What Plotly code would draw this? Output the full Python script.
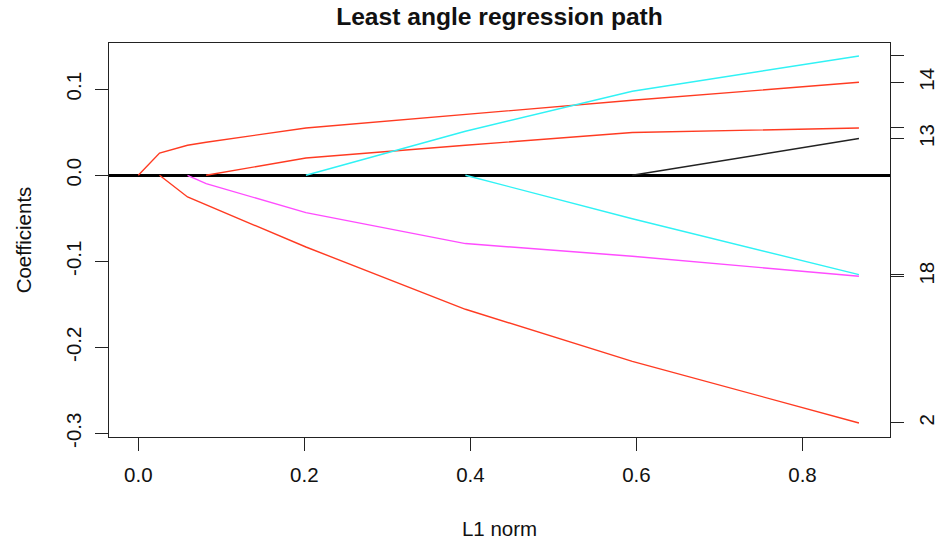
import plotly.graph_objects as go

# L1 norm at each step of the path
l1_norm = [0.0, 0.0256, 0.0593, 0.0817, 0.2019, 0.394, 0.595, 0.868]

# coefficient paths (None = variable not yet active)
red_upper = [0.0, 0.0259, 0.0349, 0.0384, 0.0550, 0.0709, 0.0872, 0.1081]
red_mid = [None, None, None, 0.0, 0.0201, 0.0349, 0.0497, 0.0550]
cyan_upper = [None, None, None, None, 0.0, 0.0512, 0.0977, 0.1387]
black_v13 = [None, None, None, None, None, None, 0.0, 0.0427]
cyan_lower = [None, None, None, None, None, 0.0, -0.0505, -0.1155]
magenta_v18 = [None, None, 0.0, -0.0097, -0.0434, -0.0794, -0.0942, -0.1174]
red_lower = [None, 0.0, -0.0252, None, -0.0834, -0.1558, -0.2163, -0.2880]

series_names = ["red upper (14)", "red middle", "cyan upper", "black (13)",
                "cyan lower", "magenta (18)", "red lower (2)"]
series_values = [red_upper, red_mid, cyan_upper, black_v13, cyan_lower, magenta_v18, red_lower]
series_colors = ["#FF3B22", "#FF3B22", "#30F2F5", "#222222", "#30F2F5", "#FF4CFF", "#FF3B22"]
right_labels = ["14", "", "", "13", "", "18", "2"]

x_ticks = [0.0, 0.2, 0.4, 0.6, 0.8]
x_tick_text = ["0.0", "0.2", "0.4", "0.6", "0.8"]
y_ticks = [-0.3, -0.2, -0.1, 0.0, 0.1]
y_tick_text = ["-0.3", "-0.2", "-0.1", "0.0", "0.1"]

FONT = "Liberation Sans, Arial, Helvetica, sans-serif"

fig = go.Figure()
for name, vals, col in zip(series_names, series_values, series_colors):
    xs = [x for x, v in zip(l1_norm, vals) if v is not None]
    ys = [v for v in vals if v is not None]
    fig.add_trace(go.Scatter(x=xs, y=ys, mode="lines", name=name,
                             line=dict(color=col, width=1.4), showlegend=False))

# right axis: end values of each path
end_vals = [[v for v in vals if v is not None][-1] for vals in series_values]
fig.add_trace(go.Scatter(x=[l1_norm[-1]], y=[end_vals[0]], yaxis="y2", mode="markers",
                         marker=dict(opacity=0), showlegend=False, hoverinfo="skip"))

yr = [-0.3043, 0.1538]
fig.update_layout(
    width=940, height=542,
    margin=dict(l=109, r=50, t=43, b=105),
    paper_bgcolor="white", plot_bgcolor="white",
    font=dict(family=FONT, size=20.5, color="#111111"),
    title=dict(text="<b>Least angle regression path</b>", x=0.5, xref="paper",
               y=1 - 16 / 542, yref="container", yanchor="middle", xanchor="center",
               font=dict(size=24.6, color="#111111", family=FONT)),
    xaxis=dict(range=[-0.0353, 0.9054], tickvals=x_ticks, ticktext=x_tick_text,
               showgrid=False, zeroline=False, showline=True, mirror=True,
               linecolor="#222222", linewidth=1.3, automargin=False,
               ticks="outside", ticklen=13, tickwidth=1.3, tickcolor="#222222",
               ticklabelstandoff=6,
               title=dict(text="L1 norm", standoff=36, font=dict(size=20.5))),
    yaxis=dict(range=yr, tickvals=y_ticks, ticktext=y_tick_text, tickangle=-90,
               showgrid=False, zeroline=True, zerolinecolor="#000000", zerolinewidth=3,
               showline=True, mirror=True, linecolor="#222222", linewidth=1.3,
               automargin=False, ticklabelstandoff=6,
               ticks="outside", ticklen=13, tickwidth=1.3, tickcolor="#222222",
               title=dict(text="Coefficients", standoff=24, font=dict(size=20.5))),
    yaxis2=dict(range=yr, overlaying="y", side="right", anchor="x",
                tickvals=end_vals, ticktext=right_labels, tickangle=-90,
                showgrid=False, zeroline=False, showline=False, automargin=False,
                ticklabelstandoff=5,
                ticks="outside", ticklen=13, tickwidth=1.3, tickcolor="#222222"),
)

fig.write_html("out.html")
